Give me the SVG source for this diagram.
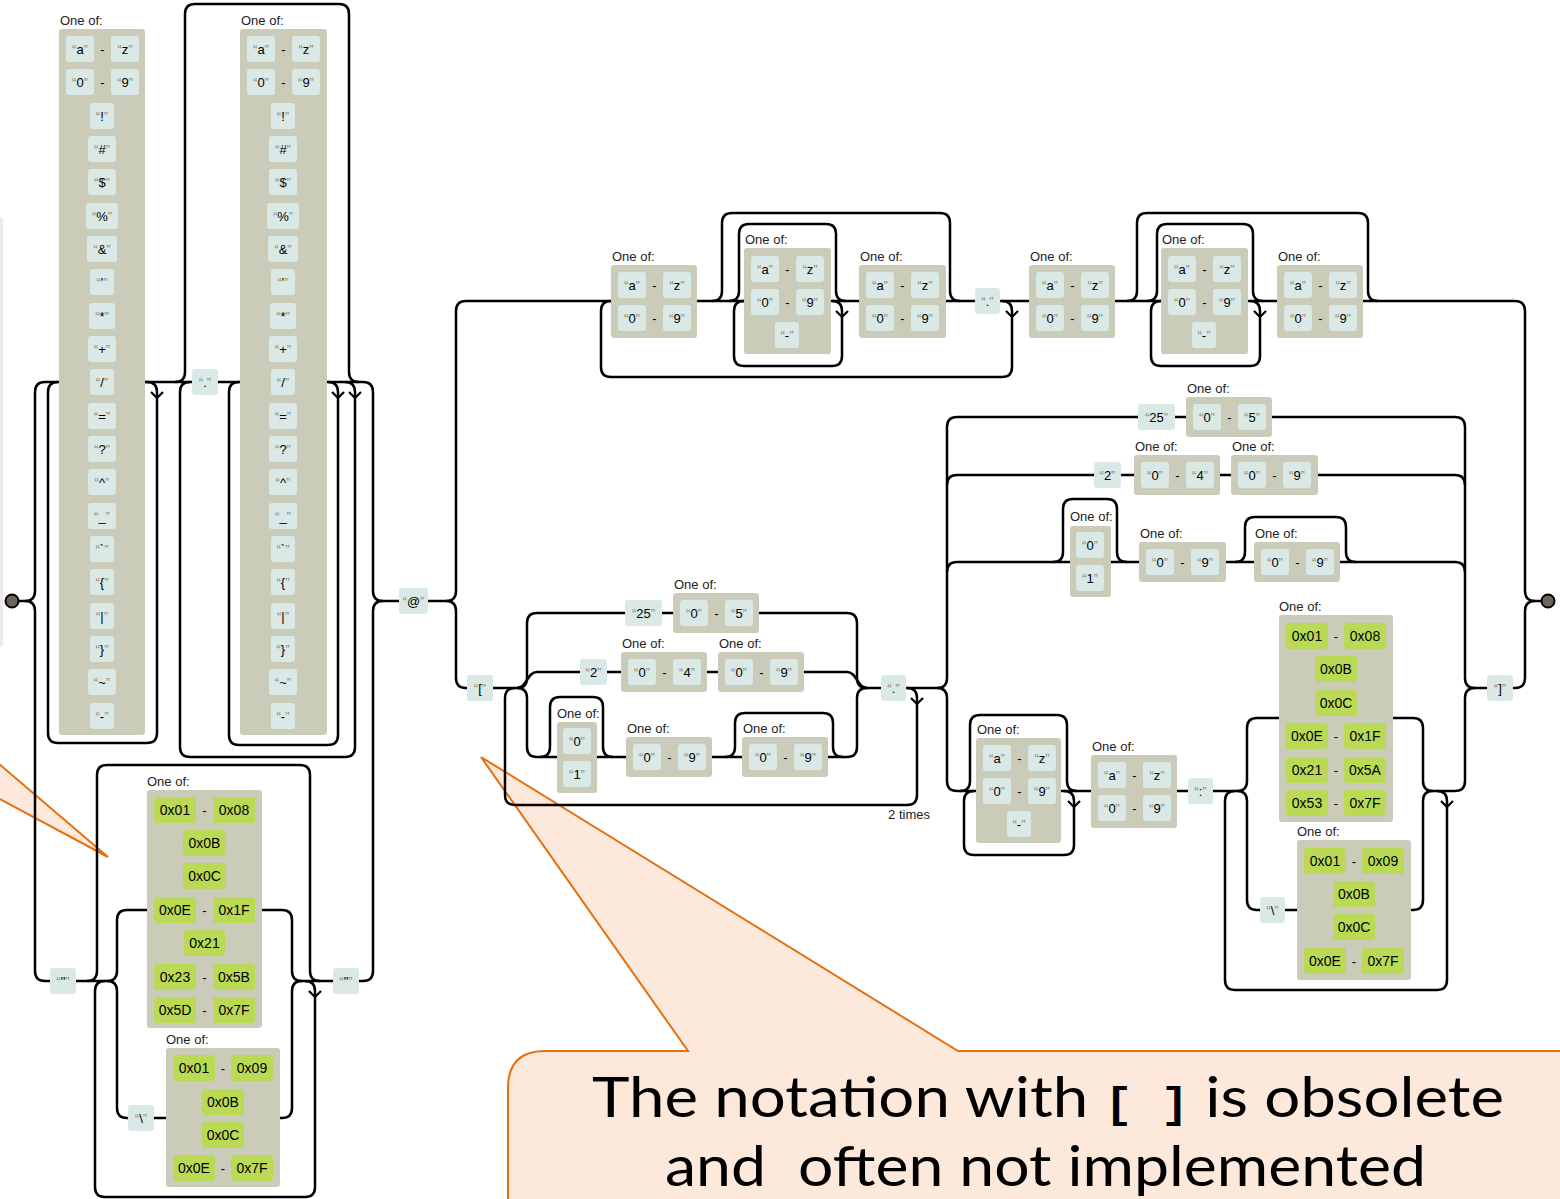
<svg xmlns="http://www.w3.org/2000/svg" width="1560" height="1199" viewBox="0 0 1560 1199">
<style>
.ln{fill:none;stroke:#000;stroke-width:2.5}
.ar{fill:none;stroke:#000;stroke-width:2.2}
.lit{fill:#dae9e5}
.cs{fill:#cbcbba}
.esc{fill:#bada55}
text{font-family:"Liberation Sans",Arial,sans-serif;font-size:13px;fill:#000}
.c{text-anchor:middle}
.q{fill:#908c83}
.hx{font-size:14px}
.lb{fill:#222}
.co{fill:#fde9db;stroke:#e4700f;stroke-width:2}
.big{font-family:Lato,"Open Sans",sans-serif;font-size:57px;fill:#000;white-space:pre}
.br{font-family:"Liberation Mono",monospace;font-weight:bold;font-size:42px}
.pt{fill:#6b6659;stroke:#000;stroke-width:2}
</style>
<g id="callouts">
<rect x="-4" y="217" width="7" height="430" rx="3" fill="#ebebeb"/>
<path class="co" d="M-2,763 L108,857 L-2,798"/>
<path class="co" d="M508,1205 V1088 Q508,1051 545,1051 H688 L481,757 L958,1051 H1570 V1205 Z"/>
<text class="big" x="592" y="1117" textLength="912" lengthAdjust="spacingAndGlyphs">The notation with <tspan class="br">[ ]</tspan> is obsolete</text>
<text class="big" x="665" y="1186" textLength="761" lengthAdjust="spacingAndGlyphs">and  often not implemented</text>
</g>
<g id="connectors">
<path class="ln" d="M19,601 H25 q10,0 10,-10 V392 q0,-10 10,-10 H59"/>
<path class="ln" d="M25,601 q10,0 10,10 V971 q0,10 10,10 H50"/>
<path class="ln" d="M145,382 H147 q10,0 10,10 V733 q0,10 -10,10 H58 q-10,0 -10,-10 V392 q0,-10 10,-10"/>
<path class="ln" d="M145,382 H192 M218,382 H240 M327,382 H363"/>
<path class="ln" d="M175,382 q10,0 10,-10 V14 q0,-10 10,-10 H339 q10,0 10,10 V372 q0,10 10,10"/>
<path class="ln" d="M345,382 q10,0 10,10 V747 q0,10 -10,10 H190 q-10,0 -10,-10 V392 q0,-10 10,-10"/>
<path class="ln" d="M328,382 q10,0 10,10 V735 q0,10 -10,10 H239 q-10,0 -10,-10 V392 q0,-10 10,-10"/>
<path class="ln" d="M363,382 q10,0 10,10 V591 q0,10 10,10 H399"/>
<path class="ln" d="M363,981 q10,0 10,-10 V611 q0,-10 10,-10"/>
<path class="ln" d="M76,981 H107"/>
<path class="ln" d="M87,981 q10,0 10,-10 V775 q0,-10 10,-10 H300 q10,0 10,10 V971 q0,10 10,10"/>
<path class="ln" d="M305,981 q10,0 10,10 V1187 q0,10 -10,10 H105 q-10,0 -10,-10 V991 q0,-10 10,-10"/>
<path class="ln" d="M107,981 q10,0 10,-10 V920 q0,-10 10,-10 H147"/>
<path class="ln" d="M107,981 q10,0 10,10 V1108 q0,10 10,10 H128 M154,1118 H166"/>
<path class="ln" d="M262,910 H282 q10,0 10,10 V971 q0,10 10,10 H333 M359,981 H363"/>
<path class="ln" d="M280,1118 H282 q10,0 10,-10 V991 q0,-10 10,-10"/>
<path class="ln" d="M428,601 H446 q10,0 10,-10 V311 q0,-10 10,-10 H611"/>
<path class="ln" d="M446,601 q10,0 10,10 V678 q0,10 10,10 H467"/>
<path class="ln" d="M1002,301 q10,0 10,10 V367 q0,10 -10,10 H611 q-10,0 -10,-10 V311 q0,-10 10,-10"/>
<path class="ln" d="M697,301 H744 M830,301 H859 M946,301 H975 M1000,301 H1029"/>
<path class="ln" d="M712,301 q10,0 10,-10 V223 q0,-10 10,-10 H940 q10,0 10,10 V291 q0,10 10,10"/>
<path class="ln" d="M729,301 q10,0 10,-10 V234 q0,-10 10,-10 H826 q10,0 10,10 V291 q0,10 10,10"/>
<path class="ln" d="M832,301 q10,0 10,10 V356 q0,10 -10,10 H744 q-10,0 -10,-10 V311 q0,-10 10,-10"/>
<path class="ln" d="M1115,301 H1161 M1248,301 H1277"/>
<path class="ln" d="M1127,301 q10,0 10,-10 V223 q0,-10 10,-10 H1358 q10,0 10,10 V291 q0,10 10,10"/>
<path class="ln" d="M1147,301 q10,0 10,-10 V234 q0,-10 10,-10 H1243 q10,0 10,10 V291 q0,10 10,10"/>
<path class="ln" d="M1250,301 q10,0 10,10 V356 q0,10 -10,10 H1161 q-10,0 -10,-10 V311 q0,-10 10,-10"/>
<path class="ln" d="M1363,301 H1515 q10,0 10,10 V591 q0,10 10,10 H1542"/>
<path class="ln" d="M1513,688 H1515 q10,0 10,-10 V611 q0,-10 10,-10"/>
<path class="ln" d="M493,688 H517"/>
<path class="ln" d="M907,688 q10,0 10,10 V795 q0,10 -10,10 H515 q-10,0 -10,-10 V698 q0,-10 10,-10"/>
<path class="ln" d="M517,688 q10,0 10,-10 V623 q0,-10 10,-10 H625 M662,613 H673 M759,613 H847 q10,0 10,10 V678 q0,10 10,10"/>
<path class="ln" d="M517,688 C527,688 527,672 537,672 H580 M607,672 H621 M707,672 H718 M804,672 H847 C857,672 857,688 867,688"/>
<path class="ln" d="M517,688 q10,0 10,10 V747 q0,10 10,10 H557 M597,757 H626 M712,757 H742 M828,757 H847 q10,0 10,-10 V698 q0,-10 10,-10"/>
<path class="ln" d="M540,757 q10,0 10,-10 V707 q0,-10 10,-10 H593 q10,0 10,10 V747 q0,10 10,10"/>
<path class="ln" d="M725,757 q10,0 10,-10 V723 q0,-10 10,-10 H823 q10,0 10,10 V747 q0,10 10,10"/>
<path class="ln" d="M867,688 H881 M906,688 H937"/>
<path class="ln" d="M937,688 q10,0 10,-10 V427 q0,-10 10,-10 H1138 M1175,417 H1186 M1272,417 H1455 q10,0 10,10 V678 q0,10 10,10 H1487"/>
<path class="ln" d="M947,485 q0,-10 10,-10 H1094 M1121,475 H1134 M1220,475 H1231 M1318,475 H1455 q10,0 10,10"/>
<path class="ln" d="M947,572 q0,-10 10,-10 H1070 M1111,562 H1139 M1226,562 H1254 M1340,562 H1455 q10,0 10,10"/>
<path class="ln" d="M1053,562 q10,0 10,-10 V509 q0,-10 10,-10 H1107 q10,0 10,10 V552 q0,10 10,10"/>
<path class="ln" d="M1235,562 q10,0 10,-10 V527 q0,-10 10,-10 H1336 q10,0 10,10 V552 q0,10 10,10"/>
<path class="ln" d="M937,688 q10,0 10,10 V781 q0,10 10,10 H976 M1060,791 H1091 M1176,791 H1188 M1213,791 H1237"/>
<path class="ln" d="M960,791 q10,0 10,-10 V725 q0,-10 10,-10 H1057 q10,0 10,10 V781 q0,10 10,10"/>
<path class="ln" d="M1064,791 q10,0 10,10 V845 q0,10 -10,10 H974 q-10,0 -10,-10 V801 q0,-10 10,-10"/>
<path class="ln" d="M1437,791 q10,0 10,10 V980 q0,10 -10,10 H1235 q-10,0 -10,-10 V801 q0,-10 10,-10"/>
<path class="ln" d="M1237,791 q10,0 10,-10 V728 q0,-10 10,-10 H1279"/>
<path class="ln" d="M1237,791 q10,0 10,10 V900 q0,10 10,10 H1260 M1285,910 H1297"/>
<path class="ln" d="M1393,718 H1413 q10,0 10,10 V781 q0,10 10,10 H1455 q10,0 10,-10 V698 q0,-10 10,-10"/>
<path class="ln" d="M1411,910 H1413 q10,0 10,-10 V801 q0,-10 10,-10"/>
<path class="ar" d="M151,392 L157,398 L163,392 M332,392 L338,398 L344,392 M349,392 L355,398 L361,392 M309,991 L315,997 L321,991 M836,311 L842,317 L848,311 M1006,311 L1012,317 L1018,311 M1254,311 L1260,317 L1266,311 M911,698 L917,704 L923,698 M1068,801 L1074,807 L1080,801 M1441,801 L1447,807 L1453,801"/>
<text x="930" y="819" text-anchor="end" class="lb">2 times</text>
</g>
<g id="start"><circle class="pt" cx="12" cy="601" r="6.5"/></g>
<g id="end"><circle class="pt" cx="1548" cy="601" r="6.5"/></g>

<g id="cs-local1">
<text class="lb" x="60" y="25">One of:</text>
<rect class="cs" x="59" y="29" width="86" height="706" rx="3"/>
<rect class="lit" x="66" y="36" width="28" height="26" rx="3"/><text class="c" x="80" y="53.5"><tspan class="q">“</tspan>a<tspan class="q">”</tspan></text>
<text class="c" x="102.5" y="53.5">-</text>
<rect class="lit" x="111" y="36" width="28" height="26" rx="3"/><text class="c" x="125" y="53.5"><tspan class="q">“</tspan>z<tspan class="q">”</tspan></text>
<rect class="lit" x="66" y="69" width="28" height="26" rx="3"/><text class="c" x="80" y="86.5"><tspan class="q">“</tspan>0<tspan class="q">”</tspan></text>
<text class="c" x="102.5" y="86.5">-</text>
<rect class="lit" x="111" y="69" width="28" height="26" rx="3"/><text class="c" x="125" y="86.5"><tspan class="q">“</tspan>9<tspan class="q">”</tspan></text>
<rect class="lit" x="90" y="103" width="24" height="26" rx="3"/><text class="c" x="102" y="120.5"><tspan class="q">“</tspan>!<tspan class="q">”</tspan></text>
<rect class="lit" x="88" y="136" width="28" height="26" rx="3"/><text class="c" x="102" y="153.5"><tspan class="q">“</tspan>#<tspan class="q">”</tspan></text>
<rect class="lit" x="88" y="169" width="28" height="26" rx="3"/><text class="c" x="102" y="186.5"><tspan class="q">“</tspan>$<tspan class="q">”</tspan></text>
<rect class="lit" x="86" y="203" width="32" height="26" rx="3"/><text class="c" x="102" y="220.5"><tspan class="q">“</tspan>%<tspan class="q">”</tspan></text>
<rect class="lit" x="87" y="236" width="30" height="26" rx="3"/><text class="c" x="102" y="253.5"><tspan class="q">“</tspan>&amp;<tspan class="q">”</tspan></text>
<rect class="lit" x="90" y="269" width="24" height="26" rx="3"/><text class="c" x="102" y="286.5"><tspan class="q">“</tspan>'<tspan class="q">”</tspan></text>
<rect class="lit" x="89" y="303" width="26" height="26" rx="3"/><text class="c" x="102" y="320.5"><tspan class="q">“</tspan>*<tspan class="q">”</tspan></text>
<rect class="lit" x="88" y="336" width="28" height="26" rx="3"/><text class="c" x="102" y="353.5"><tspan class="q">“</tspan>+<tspan class="q">”</tspan></text>
<rect class="lit" x="90" y="369" width="24" height="26" rx="3"/><text class="c" x="102" y="386.5"><tspan class="q">“</tspan>/<tspan class="q">”</tspan></text>
<rect class="lit" x="88" y="403" width="28" height="26" rx="3"/><text class="c" x="102" y="420.5"><tspan class="q">“</tspan>=<tspan class="q">”</tspan></text>
<rect class="lit" x="88" y="436" width="28" height="26" rx="3"/><text class="c" x="102" y="453.5"><tspan class="q">“</tspan>?<tspan class="q">”</tspan></text>
<rect class="lit" x="88" y="469" width="28" height="26" rx="3"/><text class="c" x="102" y="486.5"><tspan class="q">“</tspan>^<tspan class="q">”</tspan></text>
<rect class="lit" x="88" y="503" width="28" height="26" rx="3"/><text class="c" x="102" y="520.5"><tspan class="q">“</tspan>_<tspan class="q">”</tspan></text>
<rect class="lit" x="90" y="536" width="24" height="26" rx="3"/><text class="c" x="102" y="553.5"><tspan class="q">“</tspan>`<tspan class="q">”</tspan></text>
<rect class="lit" x="90" y="569" width="24" height="26" rx="3"/><text class="c" x="102" y="586.5"><tspan class="q">“</tspan>{<tspan class="q">”</tspan></text>
<rect class="lit" x="90" y="603" width="24" height="26" rx="3"/><text class="c" x="102" y="620.5"><tspan class="q">“</tspan>|<tspan class="q">”</tspan></text>
<rect class="lit" x="90" y="636" width="24" height="26" rx="3"/><text class="c" x="102" y="653.5"><tspan class="q">“</tspan>}<tspan class="q">”</tspan></text>
<rect class="lit" x="88" y="669" width="28" height="26" rx="3"/><text class="c" x="102" y="686.5"><tspan class="q">“</tspan>~<tspan class="q">”</tspan></text>
<rect class="lit" x="90" y="703" width="24" height="26" rx="3"/><text class="c" x="102" y="720.5"><tspan class="q">“</tspan>-<tspan class="q">”</tspan></text>
</g>

<g id="lit-dot1"><rect class="lit" x="192" y="369" width="26" height="26" rx="3"/><text class="c" x="205" y="386.5"><tspan class="q">“</tspan>.<tspan class="q">”</tspan></text></g>

<g id="cs-local2">
<text class="lb" x="241" y="25">One of:</text>
<rect class="cs" x="240" y="29" width="87" height="706" rx="3"/>
<rect class="lit" x="247" y="36" width="28" height="26" rx="3"/><text class="c" x="261" y="53.5"><tspan class="q">“</tspan>a<tspan class="q">”</tspan></text>
<text class="c" x="283.5" y="53.5">-</text>
<rect class="lit" x="292" y="36" width="28" height="26" rx="3"/><text class="c" x="306" y="53.5"><tspan class="q">“</tspan>z<tspan class="q">”</tspan></text>
<rect class="lit" x="247" y="69" width="28" height="26" rx="3"/><text class="c" x="261" y="86.5"><tspan class="q">“</tspan>0<tspan class="q">”</tspan></text>
<text class="c" x="283.5" y="86.5">-</text>
<rect class="lit" x="292" y="69" width="28" height="26" rx="3"/><text class="c" x="306" y="86.5"><tspan class="q">“</tspan>9<tspan class="q">”</tspan></text>
<rect class="lit" x="271" y="103" width="24" height="26" rx="3"/><text class="c" x="283" y="120.5"><tspan class="q">“</tspan>!<tspan class="q">”</tspan></text>
<rect class="lit" x="269" y="136" width="28" height="26" rx="3"/><text class="c" x="283" y="153.5"><tspan class="q">“</tspan>#<tspan class="q">”</tspan></text>
<rect class="lit" x="269" y="169" width="28" height="26" rx="3"/><text class="c" x="283" y="186.5"><tspan class="q">“</tspan>$<tspan class="q">”</tspan></text>
<rect class="lit" x="267" y="203" width="32" height="26" rx="3"/><text class="c" x="283" y="220.5"><tspan class="q">“</tspan>%<tspan class="q">”</tspan></text>
<rect class="lit" x="268" y="236" width="30" height="26" rx="3"/><text class="c" x="283" y="253.5"><tspan class="q">“</tspan>&amp;<tspan class="q">”</tspan></text>
<rect class="lit" x="271" y="269" width="24" height="26" rx="3"/><text class="c" x="283" y="286.5"><tspan class="q">“</tspan>'<tspan class="q">”</tspan></text>
<rect class="lit" x="270" y="303" width="26" height="26" rx="3"/><text class="c" x="283" y="320.5"><tspan class="q">“</tspan>*<tspan class="q">”</tspan></text>
<rect class="lit" x="269" y="336" width="28" height="26" rx="3"/><text class="c" x="283" y="353.5"><tspan class="q">“</tspan>+<tspan class="q">”</tspan></text>
<rect class="lit" x="271" y="369" width="24" height="26" rx="3"/><text class="c" x="283" y="386.5"><tspan class="q">“</tspan>/<tspan class="q">”</tspan></text>
<rect class="lit" x="269" y="403" width="28" height="26" rx="3"/><text class="c" x="283" y="420.5"><tspan class="q">“</tspan>=<tspan class="q">”</tspan></text>
<rect class="lit" x="269" y="436" width="28" height="26" rx="3"/><text class="c" x="283" y="453.5"><tspan class="q">“</tspan>?<tspan class="q">”</tspan></text>
<rect class="lit" x="269" y="469" width="28" height="26" rx="3"/><text class="c" x="283" y="486.5"><tspan class="q">“</tspan>^<tspan class="q">”</tspan></text>
<rect class="lit" x="269" y="503" width="28" height="26" rx="3"/><text class="c" x="283" y="520.5"><tspan class="q">“</tspan>_<tspan class="q">”</tspan></text>
<rect class="lit" x="271" y="536" width="24" height="26" rx="3"/><text class="c" x="283" y="553.5"><tspan class="q">“</tspan>`<tspan class="q">”</tspan></text>
<rect class="lit" x="271" y="569" width="24" height="26" rx="3"/><text class="c" x="283" y="586.5"><tspan class="q">“</tspan>{<tspan class="q">”</tspan></text>
<rect class="lit" x="271" y="603" width="24" height="26" rx="3"/><text class="c" x="283" y="620.5"><tspan class="q">“</tspan>|<tspan class="q">”</tspan></text>
<rect class="lit" x="271" y="636" width="24" height="26" rx="3"/><text class="c" x="283" y="653.5"><tspan class="q">“</tspan>}<tspan class="q">”</tspan></text>
<rect class="lit" x="269" y="669" width="28" height="26" rx="3"/><text class="c" x="283" y="686.5"><tspan class="q">“</tspan>~<tspan class="q">”</tspan></text>
<rect class="lit" x="271" y="703" width="24" height="26" rx="3"/><text class="c" x="283" y="720.5"><tspan class="q">“</tspan>-<tspan class="q">”</tspan></text>
</g>

<g id="lit-quote1"><rect class="lit" x="50" y="968" width="26" height="26" rx="3"/><text class="c" x="63" y="985.5"><tspan class="q">“</tspan>"<tspan class="q">”</tspan></text></g>
<g id="lit-quote2"><rect class="lit" x="333" y="968" width="26" height="26" rx="3"/><text class="c" x="346" y="985.5"><tspan class="q">“</tspan>"<tspan class="q">”</tspan></text></g>

<g id="cs-qtext">
<text class="lb" x="147" y="786">One of:</text>
<rect class="cs" x="147" y="790" width="115" height="238" rx="3"/>
<rect class="esc" x="154" y="797" width="42" height="26" rx="3"/><text class="c hx" x="175" y="815">0x01</text><text class="c" x="204.5" y="814.5">-</text>
<rect class="esc" x="213" y="797" width="42" height="26" rx="3"/><text class="c hx" x="234" y="815">0x08</text>
<rect class="esc" x="183" y="830" width="43" height="26" rx="3"/><text class="c hx" x="204.5" y="848">0x0B</text>
<rect class="esc" x="183" y="863" width="43" height="26" rx="3"/><text class="c hx" x="204.5" y="881">0x0C</text>
<rect class="esc" x="154" y="897" width="42" height="26" rx="3"/><text class="c hx" x="175" y="915">0x0E</text><text class="c" x="204.5" y="914.5">-</text>
<rect class="esc" x="213" y="897" width="42" height="26" rx="3"/><text class="c hx" x="234" y="915">0x1F</text>
<rect class="esc" x="184" y="930" width="41" height="26" rx="3"/><text class="c hx" x="204.5" y="948">0x21</text>
<rect class="esc" x="154" y="964" width="42" height="26" rx="3"/><text class="c hx" x="175" y="982">0x23</text><text class="c" x="204.5" y="981.5">-</text>
<rect class="esc" x="213" y="964" width="42" height="26" rx="3"/><text class="c hx" x="234" y="982">0x5B</text>
<rect class="esc" x="154" y="997" width="42" height="26" rx="3"/><text class="c hx" x="175" y="1015">0x5D</text><text class="c" x="204.5" y="1014.5">-</text>
<rect class="esc" x="213" y="997" width="42" height="26" rx="3"/><text class="c hx" x="234" y="1015">0x7F</text>
</g>

<g id="lit-bs1"><rect class="lit" x="128" y="1105" width="26" height="26" rx="3"/><text class="c" x="141" y="1122.5"><tspan class="q">“</tspan>\<tspan class="q">”</tspan></text></g>

<g id="cs-qpair">
<text class="lb" x="166" y="1044">One of:</text>
<rect class="cs" x="166" y="1048" width="114" height="139" rx="3"/>
<rect class="esc" x="173" y="1055" width="42" height="26" rx="3"/><text class="c hx" x="194" y="1073">0x01</text><text class="c" x="223" y="1072.5">-</text>
<rect class="esc" x="231" y="1055" width="42" height="26" rx="3"/><text class="c hx" x="252" y="1073">0x09</text>
<rect class="esc" x="202" y="1089" width="42" height="26" rx="3"/><text class="c hx" x="223" y="1107">0x0B</text>
<rect class="esc" x="202" y="1122" width="42" height="26" rx="3"/><text class="c hx" x="223" y="1140">0x0C</text>
<rect class="esc" x="173" y="1155" width="42" height="26" rx="3"/><text class="c hx" x="194" y="1173">0x0E</text><text class="c" x="223" y="1172.5">-</text>
<rect class="esc" x="231" y="1155" width="42" height="26" rx="3"/><text class="c hx" x="252" y="1173">0x7F</text>
</g>

<g id="lit-at"><rect class="lit" x="399" y="588" width="29" height="26" rx="3"/><text class="c" x="413.5" y="605.5"><tspan class="q">“</tspan>@<tspan class="q">”</tspan></text></g>

<g id="cs-dA">
<text class="lb" x="612" y="261">One of:</text>
<rect class="cs" x="611" y="265" width="86" height="73" rx="3"/>
<rect class="lit" x="618" y="272" width="28" height="26" rx="3"/><text class="c" x="632" y="289.5"><tspan class="q">“</tspan>a<tspan class="q">”</tspan></text><text class="c" x="654.5" y="289.5">-</text>
<rect class="lit" x="663" y="272" width="28" height="26" rx="3"/><text class="c" x="677" y="289.5"><tspan class="q">“</tspan>z<tspan class="q">”</tspan></text>
<rect class="lit" x="618" y="305" width="28" height="26" rx="3"/><text class="c" x="632" y="322.5"><tspan class="q">“</tspan>0<tspan class="q">”</tspan></text><text class="c" x="654.5" y="322.5">-</text>
<rect class="lit" x="663" y="305" width="28" height="26" rx="3"/><text class="c" x="677" y="322.5"><tspan class="q">“</tspan>9<tspan class="q">”</tspan></text>
</g>
<g id="cs-dB">
<text class="lb" x="745" y="244">One of:</text>
<rect class="cs" x="744" y="248" width="87" height="106" rx="3"/>
<rect class="lit" x="751" y="256" width="28" height="26" rx="3"/><text class="c" x="765" y="273.5"><tspan class="q">“</tspan>a<tspan class="q">”</tspan></text><text class="c" x="787.5" y="273.5">-</text>
<rect class="lit" x="796" y="256" width="28" height="26" rx="3"/><text class="c" x="810" y="273.5"><tspan class="q">“</tspan>z<tspan class="q">”</tspan></text>
<rect class="lit" x="751" y="289" width="28" height="26" rx="3"/><text class="c" x="765" y="306.5"><tspan class="q">“</tspan>0<tspan class="q">”</tspan></text><text class="c" x="787.5" y="306.5">-</text>
<rect class="lit" x="796" y="289" width="28" height="26" rx="3"/><text class="c" x="810" y="306.5"><tspan class="q">“</tspan>9<tspan class="q">”</tspan></text>
<rect class="lit" x="775" y="322" width="24" height="26" rx="3"/><text class="c" x="787" y="339.5"><tspan class="q">“</tspan>-<tspan class="q">”</tspan></text>
</g>
<g id="cs-dC">
<text class="lb" x="860" y="261">One of:</text>
<rect class="cs" x="859" y="265" width="87" height="73" rx="3"/>
<rect class="lit" x="866" y="272" width="28" height="26" rx="3"/><text class="c" x="880" y="289.5"><tspan class="q">“</tspan>a<tspan class="q">”</tspan></text><text class="c" x="902.5" y="289.5">-</text>
<rect class="lit" x="911" y="272" width="28" height="26" rx="3"/><text class="c" x="925" y="289.5"><tspan class="q">“</tspan>z<tspan class="q">”</tspan></text>
<rect class="lit" x="866" y="305" width="28" height="26" rx="3"/><text class="c" x="880" y="322.5"><tspan class="q">“</tspan>0<tspan class="q">”</tspan></text><text class="c" x="902.5" y="322.5">-</text>
<rect class="lit" x="911" y="305" width="28" height="26" rx="3"/><text class="c" x="925" y="322.5"><tspan class="q">“</tspan>9<tspan class="q">”</tspan></text>
</g>
<g id="lit-dot2"><rect class="lit" x="975" y="288" width="25" height="26" rx="3"/><text class="c" x="987.5" y="305.5"><tspan class="q">“</tspan>.<tspan class="q">”</tspan></text></g>
<g id="cs-dD">
<text class="lb" x="1030" y="261">One of:</text>
<rect class="cs" x="1029" y="265" width="86" height="73" rx="3"/>
<rect class="lit" x="1036" y="272" width="28" height="26" rx="3"/><text class="c" x="1050" y="289.5"><tspan class="q">“</tspan>a<tspan class="q">”</tspan></text><text class="c" x="1072.5" y="289.5">-</text>
<rect class="lit" x="1081" y="272" width="28" height="26" rx="3"/><text class="c" x="1095" y="289.5"><tspan class="q">“</tspan>z<tspan class="q">”</tspan></text>
<rect class="lit" x="1036" y="305" width="28" height="26" rx="3"/><text class="c" x="1050" y="322.5"><tspan class="q">“</tspan>0<tspan class="q">”</tspan></text><text class="c" x="1072.5" y="322.5">-</text>
<rect class="lit" x="1081" y="305" width="28" height="26" rx="3"/><text class="c" x="1095" y="322.5"><tspan class="q">“</tspan>9<tspan class="q">”</tspan></text>
</g>
<g id="cs-dE">
<text class="lb" x="1162" y="244">One of:</text>
<rect class="cs" x="1161" y="248" width="87" height="106" rx="3"/>
<rect class="lit" x="1168" y="256" width="28" height="26" rx="3"/><text class="c" x="1182" y="273.5"><tspan class="q">“</tspan>a<tspan class="q">”</tspan></text><text class="c" x="1204.5" y="273.5">-</text>
<rect class="lit" x="1213" y="256" width="28" height="26" rx="3"/><text class="c" x="1227" y="273.5"><tspan class="q">“</tspan>z<tspan class="q">”</tspan></text>
<rect class="lit" x="1168" y="289" width="28" height="26" rx="3"/><text class="c" x="1182" y="306.5"><tspan class="q">“</tspan>0<tspan class="q">”</tspan></text><text class="c" x="1204.5" y="306.5">-</text>
<rect class="lit" x="1213" y="289" width="28" height="26" rx="3"/><text class="c" x="1227" y="306.5"><tspan class="q">“</tspan>9<tspan class="q">”</tspan></text>
<rect class="lit" x="1192" y="322" width="24" height="26" rx="3"/><text class="c" x="1204" y="339.5"><tspan class="q">“</tspan>-<tspan class="q">”</tspan></text>
</g>
<g id="cs-dF">
<text class="lb" x="1278" y="261">One of:</text>
<rect class="cs" x="1277" y="265" width="86" height="73" rx="3"/>
<rect class="lit" x="1284" y="272" width="28" height="26" rx="3"/><text class="c" x="1298" y="289.5"><tspan class="q">“</tspan>a<tspan class="q">”</tspan></text><text class="c" x="1320.5" y="289.5">-</text>
<rect class="lit" x="1329" y="272" width="28" height="26" rx="3"/><text class="c" x="1343" y="289.5"><tspan class="q">“</tspan>z<tspan class="q">”</tspan></text>
<rect class="lit" x="1284" y="305" width="28" height="26" rx="3"/><text class="c" x="1298" y="322.5"><tspan class="q">“</tspan>0<tspan class="q">”</tspan></text><text class="c" x="1320.5" y="322.5">-</text>
<rect class="lit" x="1329" y="305" width="28" height="26" rx="3"/><text class="c" x="1343" y="322.5"><tspan class="q">“</tspan>9<tspan class="q">”</tspan></text>
</g>

<g id="lit-lbr"><rect class="lit" x="467" y="675" width="26" height="26" rx="3"/><text class="c" x="480" y="692.5"><tspan class="q">“</tspan>[<tspan class="q">”</tspan></text></g>
<g id="lit-25a"><rect class="lit" x="625" y="600" width="37" height="26" rx="3"/><text class="c" x="643.5" y="617.5"><tspan class="q">“</tspan>25<tspan class="q">”</tspan></text></g>
<g id="cs-p1">
<text class="lb" x="674" y="589">One of:</text>
<rect class="cs" x="673" y="593" width="86" height="40" rx="3"/>
<rect class="lit" x="680" y="600" width="28" height="26" rx="3"/><text class="c" x="694" y="617.5"><tspan class="q">“</tspan>0<tspan class="q">”</tspan></text><text class="c" x="716.5" y="617.5">-</text>
<rect class="lit" x="725" y="600" width="28" height="26" rx="3"/><text class="c" x="739" y="617.5"><tspan class="q">“</tspan>5<tspan class="q">”</tspan></text>
</g>
<g id="lit-2a"><rect class="lit" x="580" y="659" width="27" height="26" rx="3"/><text class="c" x="593.5" y="676.5"><tspan class="q">“</tspan>2<tspan class="q">”</tspan></text></g>
<g id="cs-p2">
<text class="lb" x="622" y="648">One of:</text>
<rect class="cs" x="621" y="652" width="86" height="40" rx="3"/>
<rect class="lit" x="628" y="659" width="28" height="26" rx="3"/><text class="c" x="642" y="676.5"><tspan class="q">“</tspan>0<tspan class="q">”</tspan></text><text class="c" x="664.5" y="676.5">-</text>
<rect class="lit" x="673" y="659" width="28" height="26" rx="3"/><text class="c" x="687" y="676.5"><tspan class="q">“</tspan>4<tspan class="q">”</tspan></text>
</g>
<g id="cs-p3">
<text class="lb" x="719" y="648">One of:</text>
<rect class="cs" x="718" y="652" width="86" height="40" rx="3"/>
<rect class="lit" x="725" y="659" width="28" height="26" rx="3"/><text class="c" x="739" y="676.5"><tspan class="q">“</tspan>0<tspan class="q">”</tspan></text><text class="c" x="761.5" y="676.5">-</text>
<rect class="lit" x="770" y="659" width="28" height="26" rx="3"/><text class="c" x="784" y="676.5"><tspan class="q">“</tspan>9<tspan class="q">”</tspan></text>
</g>
<g id="cs-p4">
<text class="lb" x="557" y="718">One of:</text>
<rect class="cs" x="557" y="722" width="40" height="71" rx="3"/>
<rect class="lit" x="563" y="728" width="28" height="26" rx="3"/><text class="c" x="577" y="745.5"><tspan class="q">“</tspan>0<tspan class="q">”</tspan></text>
<rect class="lit" x="563" y="761" width="28" height="26" rx="3"/><text class="c" x="577" y="778.5"><tspan class="q">“</tspan>1<tspan class="q">”</tspan></text>
</g>
<g id="cs-p5">
<text class="lb" x="627" y="733">One of:</text>
<rect class="cs" x="626" y="737" width="86" height="40" rx="3"/>
<rect class="lit" x="633" y="744" width="28" height="26" rx="3"/><text class="c" x="647" y="761.5"><tspan class="q">“</tspan>0<tspan class="q">”</tspan></text><text class="c" x="669.5" y="761.5">-</text>
<rect class="lit" x="678" y="744" width="28" height="26" rx="3"/><text class="c" x="692" y="761.5"><tspan class="q">“</tspan>9<tspan class="q">”</tspan></text>
</g>
<g id="cs-p6">
<text class="lb" x="743" y="733">One of:</text>
<rect class="cs" x="742" y="737" width="86" height="40" rx="3"/>
<rect class="lit" x="749" y="744" width="28" height="26" rx="3"/><text class="c" x="763" y="761.5"><tspan class="q">“</tspan>0<tspan class="q">”</tspan></text><text class="c" x="785.5" y="761.5">-</text>
<rect class="lit" x="794" y="744" width="28" height="26" rx="3"/><text class="c" x="808" y="761.5"><tspan class="q">“</tspan>9<tspan class="q">”</tspan></text>
</g>
<g id="lit-dot3"><rect class="lit" x="881" y="675" width="25" height="26" rx="3"/><text class="c" x="893.5" y="692.5"><tspan class="q">“</tspan>.<tspan class="q">”</tspan></text></g>

<g id="lit-25b"><rect class="lit" x="1138" y="404" width="37" height="26" rx="3"/><text class="c" x="1156.5" y="421.5"><tspan class="q">“</tspan>25<tspan class="q">”</tspan></text></g>
<g id="cs-q1">
<text class="lb" x="1187" y="393">One of:</text>
<rect class="cs" x="1186" y="397" width="86" height="40" rx="3"/>
<rect class="lit" x="1193" y="404" width="28" height="26" rx="3"/><text class="c" x="1207" y="421.5"><tspan class="q">“</tspan>0<tspan class="q">”</tspan></text><text class="c" x="1229.5" y="421.5">-</text>
<rect class="lit" x="1238" y="404" width="28" height="26" rx="3"/><text class="c" x="1252" y="421.5"><tspan class="q">“</tspan>5<tspan class="q">”</tspan></text>
</g>
<g id="lit-2b"><rect class="lit" x="1094" y="462" width="27" height="26" rx="3"/><text class="c" x="1107.5" y="479.5"><tspan class="q">“</tspan>2<tspan class="q">”</tspan></text></g>
<g id="cs-q2">
<text class="lb" x="1135" y="451">One of:</text>
<rect class="cs" x="1134" y="455" width="86" height="40" rx="3"/>
<rect class="lit" x="1141" y="462" width="28" height="26" rx="3"/><text class="c" x="1155" y="479.5"><tspan class="q">“</tspan>0<tspan class="q">”</tspan></text><text class="c" x="1177.5" y="479.5">-</text>
<rect class="lit" x="1186" y="462" width="28" height="26" rx="3"/><text class="c" x="1200" y="479.5"><tspan class="q">“</tspan>4<tspan class="q">”</tspan></text>
</g>
<g id="cs-q3">
<text class="lb" x="1232" y="451">One of:</text>
<rect class="cs" x="1231" y="455" width="87" height="40" rx="3"/>
<rect class="lit" x="1238" y="462" width="28" height="26" rx="3"/><text class="c" x="1252" y="479.5"><tspan class="q">“</tspan>0<tspan class="q">”</tspan></text><text class="c" x="1274.5" y="479.5">-</text>
<rect class="lit" x="1283" y="462" width="28" height="26" rx="3"/><text class="c" x="1297" y="479.5"><tspan class="q">“</tspan>9<tspan class="q">”</tspan></text>
</g>
<g id="cs-q4">
<text class="lb" x="1070" y="521">One of:</text>
<rect class="cs" x="1070" y="526" width="41" height="71" rx="3"/>
<rect class="lit" x="1076" y="532" width="28" height="26" rx="3"/><text class="c" x="1090" y="549.5"><tspan class="q">“</tspan>0<tspan class="q">”</tspan></text>
<rect class="lit" x="1076" y="565" width="28" height="26" rx="3"/><text class="c" x="1090" y="582.5"><tspan class="q">“</tspan>1<tspan class="q">”</tspan></text>
</g>
<g id="cs-q5">
<text class="lb" x="1140" y="538">One of:</text>
<rect class="cs" x="1139" y="542" width="87" height="40" rx="3"/>
<rect class="lit" x="1146" y="549" width="28" height="26" rx="3"/><text class="c" x="1160" y="566.5"><tspan class="q">“</tspan>0<tspan class="q">”</tspan></text><text class="c" x="1182.5" y="566.5">-</text>
<rect class="lit" x="1191" y="549" width="28" height="26" rx="3"/><text class="c" x="1205" y="566.5"><tspan class="q">“</tspan>9<tspan class="q">”</tspan></text>
</g>
<g id="cs-q6">
<text class="lb" x="1255" y="538">One of:</text>
<rect class="cs" x="1254" y="542" width="86" height="40" rx="3"/>
<rect class="lit" x="1261" y="549" width="28" height="26" rx="3"/><text class="c" x="1275" y="566.5"><tspan class="q">“</tspan>0<tspan class="q">”</tspan></text><text class="c" x="1297.5" y="566.5">-</text>
<rect class="lit" x="1306" y="549" width="28" height="26" rx="3"/><text class="c" x="1320" y="566.5"><tspan class="q">“</tspan>9<tspan class="q">”</tspan></text>
</g>

<g id="cs-g">
<text class="lb" x="977" y="734">One of:</text>
<rect class="cs" x="976" y="738" width="85" height="105" rx="3"/>
<rect class="lit" x="983" y="745" width="28" height="26" rx="3"/><text class="c" x="997" y="762.5"><tspan class="q">“</tspan>a<tspan class="q">”</tspan></text><text class="c" x="1019.5" y="762.5">-</text>
<rect class="lit" x="1028" y="745" width="28" height="26" rx="3"/><text class="c" x="1042" y="762.5"><tspan class="q">“</tspan>z<tspan class="q">”</tspan></text>
<rect class="lit" x="983" y="778" width="28" height="26" rx="3"/><text class="c" x="997" y="795.5"><tspan class="q">“</tspan>0<tspan class="q">”</tspan></text><text class="c" x="1019.5" y="795.5">-</text>
<rect class="lit" x="1028" y="778" width="28" height="26" rx="3"/><text class="c" x="1042" y="795.5"><tspan class="q">“</tspan>9<tspan class="q">”</tspan></text>
<rect class="lit" x="1007" y="811" width="24" height="26" rx="3"/><text class="c" x="1019" y="828.5"><tspan class="q">“</tspan>-<tspan class="q">”</tspan></text>
</g>
<g id="cs-h">
<text class="lb" x="1092" y="751">One of:</text>
<rect class="cs" x="1091" y="755" width="86" height="73" rx="3"/>
<rect class="lit" x="1098" y="762" width="28" height="26" rx="3"/><text class="c" x="1112" y="779.5"><tspan class="q">“</tspan>a<tspan class="q">”</tspan></text><text class="c" x="1134.5" y="779.5">-</text>
<rect class="lit" x="1143" y="762" width="28" height="26" rx="3"/><text class="c" x="1157" y="779.5"><tspan class="q">“</tspan>z<tspan class="q">”</tspan></text>
<rect class="lit" x="1098" y="795" width="28" height="26" rx="3"/><text class="c" x="1112" y="812.5"><tspan class="q">“</tspan>0<tspan class="q">”</tspan></text><text class="c" x="1134.5" y="812.5">-</text>
<rect class="lit" x="1143" y="795" width="28" height="26" rx="3"/><text class="c" x="1157" y="812.5"><tspan class="q">“</tspan>9<tspan class="q">”</tspan></text>
</g>
<g id="lit-colon"><rect class="lit" x="1188" y="778" width="25" height="26" rx="3"/><text class="c" x="1200.5" y="795.5"><tspan class="q">“</tspan>:<tspan class="q">”</tspan></text></g>

<g id="cs-i">
<text class="lb" x="1279" y="611">One of:</text>
<rect class="cs" x="1279" y="615" width="114" height="207" rx="3"/>
<rect class="esc" x="1286" y="623" width="42" height="26" rx="3"/><text class="c hx" x="1307" y="641">0x01</text><text class="c" x="1336" y="640.5">-</text>
<rect class="esc" x="1344" y="623" width="42" height="26" rx="3"/><text class="c hx" x="1365" y="641">0x08</text>
<rect class="esc" x="1315" y="656" width="42" height="26" rx="3"/><text class="c hx" x="1336" y="674">0x0B</text>
<rect class="esc" x="1315" y="690" width="42" height="26" rx="3"/><text class="c hx" x="1336" y="708">0x0C</text>
<rect class="esc" x="1286" y="723" width="42" height="26" rx="3"/><text class="c hx" x="1307" y="741">0x0E</text><text class="c" x="1336" y="740.5">-</text>
<rect class="esc" x="1344" y="723" width="42" height="26" rx="3"/><text class="c hx" x="1365" y="741">0x1F</text>
<rect class="esc" x="1286" y="757" width="42" height="26" rx="3"/><text class="c hx" x="1307" y="775">0x21</text><text class="c" x="1336" y="774.5">-</text>
<rect class="esc" x="1344" y="757" width="42" height="26" rx="3"/><text class="c hx" x="1365" y="775">0x5A</text>
<rect class="esc" x="1286" y="790" width="42" height="26" rx="3"/><text class="c hx" x="1307" y="808">0x53</text><text class="c" x="1336" y="807.5">-</text>
<rect class="esc" x="1344" y="790" width="42" height="26" rx="3"/><text class="c hx" x="1365" y="808">0x7F</text>
</g>
<g id="lit-bs2"><rect class="lit" x="1260" y="897" width="25" height="26" rx="3"/><text class="c" x="1272.5" y="914.5"><tspan class="q">“</tspan>\<tspan class="q">”</tspan></text></g>
<g id="cs-j">
<text class="lb" x="1297" y="836">One of:</text>
<rect class="cs" x="1297" y="840" width="114" height="140" rx="3"/>
<rect class="esc" x="1304" y="848" width="42" height="26" rx="3"/><text class="c hx" x="1325" y="866">0x01</text><text class="c" x="1354" y="865.5">-</text>
<rect class="esc" x="1362" y="848" width="42" height="26" rx="3"/><text class="c hx" x="1383" y="866">0x09</text>
<rect class="esc" x="1333" y="881" width="42" height="26" rx="3"/><text class="c hx" x="1354" y="899">0x0B</text>
<rect class="esc" x="1333" y="914" width="42" height="26" rx="3"/><text class="c hx" x="1354" y="932">0x0C</text>
<rect class="esc" x="1304" y="948" width="42" height="26" rx="3"/><text class="c hx" x="1325" y="966">0x0E</text><text class="c" x="1354" y="965.5">-</text>
<rect class="esc" x="1362" y="948" width="42" height="26" rx="3"/><text class="c hx" x="1383" y="966">0x7F</text>
</g>
<g id="lit-rbr"><rect class="lit" x="1487" y="675" width="26" height="26" rx="3"/><text class="c" x="1500" y="692.5"><tspan class="q">“</tspan>]<tspan class="q">”</tspan></text></g>
</svg>
